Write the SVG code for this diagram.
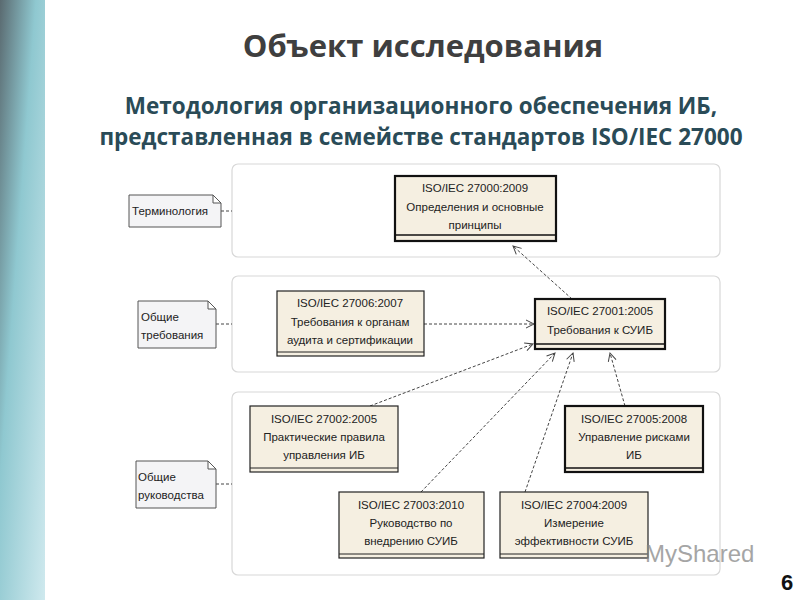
<svg xmlns="http://www.w3.org/2000/svg" width="800" height="600" viewBox="0 0 800 600">
<defs>
<marker id="ar" markerWidth="10" markerHeight="10" refX="9" refY="5" orient="auto" markerUnits="userSpaceOnUse"><path d="M1,1 L9,5 L1,9" fill="none" stroke="#444" stroke-width="1"/></marker>
<linearGradient id="bg" x1="0" y1="0" x2="1" y2="1"><stop offset="0" stop-color="#5a6a70"/><stop offset="0.4" stop-color="#8fc8d0"/><stop offset="1" stop-color="#cfe9ee"/></linearGradient>
</defs>
<style>
.t{font-family:"Liberation Sans",Arial,sans-serif}
.h{font-family:"Open Sans","Liberation Sans",sans-serif;font-weight:bold;text-anchor:middle}
.panel{fill:#fff;stroke:#d8d8d8;stroke-width:1.2}
.n{fill:#f5efe1;stroke:#222;stroke-width:1.2}
.nb{fill:#f5efe1;stroke:#111;stroke-width:2.2}
.nt{font-family:"Liberation Sans",Arial,sans-serif;font-size:11.5px;fill:#222;text-anchor:middle}
.note{fill:#f4f4f6;stroke:#555;stroke-width:1}
.c{stroke:#444;stroke-width:1;stroke-dasharray:3,2;fill:none}
</style>
<rect width="800" height="600" fill="#fff"/>
<rect x="0" y="0" width="45" height="600" fill="url(#bg)"/>
<text class="h" x="423" y="57" font-size="31" fill="#3f3f3f">Объект исследования</text>
<text class="h" x="421" y="114" font-size="22.5" fill="#2a4b57">Методология организационного обеспечения ИБ,</text>
<text class="h" x="421" y="145" font-size="22.5" fill="#2a4b57">представленная в семействе стандартов ISO/IEC 27000</text>
<rect class="panel" x="232" y="164" width="488" height="93" rx="6"/>
<rect class="panel" x="232" y="276" width="488" height="96" rx="6"/>
<rect class="panel" x="232" y="392" width="488" height="183" rx="6"/>
<g id="connectors">
<path class="c" d="M572,299 L513,246" marker-end="url(#ar)"/>
<path class="c" d="M424,324 L534,324" marker-end="url(#ar)"/>
<path class="c" d="M370,406 L533,344" marker-end="url(#ar)"/>
<path class="c" d="M421,492 L555,353" marker-end="url(#ar)"/>
<path class="c" d="M525,492 L573,353" marker-end="url(#ar)"/>
<path class="c" d="M625,406 L610,353" marker-end="url(#ar)"/>
<path class="c" stroke-dasharray="2,2" d="M221,211 L232,211 M216,324 L232,324 M216,484 L232,484"/>
</g>
<g id="note1"><path class="note" d="M129,195 H213 L221,203 V227 H129 Z M213,195 V203 H221"/><text class="t" x="132" y="215" font-size="11.5" fill="#222">Терминология</text></g>
<g id="note2"><path class="note" d="M138,301 H208 L216,309 V348 H138 Z M208,301 V309 H216"/><text class="t" x="141" y="321" font-size="11.5" fill="#222">Общие</text><text class="t" x="141" y="339" font-size="11.5" fill="#222">требования</text></g>
<g id="note3"><path class="note" d="M136,461 H208 L216,469 V508 H136 Z M208,461 V469 H216"/><text class="t" x="138" y="481" font-size="11.5" fill="#222">Общие</text><text class="t" x="138" y="499" font-size="11.5" fill="#222">руководства</text></g>
<g id="n0"><rect class="nb" x="395" y="176" width="161" height="65"/><path d="M395,235 H556" stroke="#111" stroke-width="1.5"/><text class="nt" x="475" y="192">ISO/IEC 27000:2009</text><text class="nt" x="475" y="211">Определения и основные</text><text class="nt" x="475" y="229">принципы</text></g>
<g id="n6"><rect class="n" x="277" y="291" width="147" height="65"/><path d="M277,352 H424" stroke="#222"/><text class="nt" x="350" y="307">ISO/IEC 27006:2007</text><text class="nt" x="350" y="326">Требования к органам</text><text class="nt" x="350" y="344">аудита и сертификации</text></g>
<g id="n1"><rect class="nb" x="535" y="299" width="130" height="50"/><path d="M535,344 H665" stroke="#111" stroke-width="1.5"/><text class="nt" x="600" y="315">ISO/IEC 27001:2005</text><text class="nt" x="600" y="334">Требования к СУИБ</text></g>
<g id="n2"><rect class="n" x="250" y="406" width="148" height="66"/><path d="M250,468 H398" stroke="#222"/><text class="nt" x="324" y="423">ISO/IEC 27002:2005</text><text class="nt" x="324" y="441">Практические правила</text><text class="nt" x="324" y="459">управления ИБ</text></g>
<g id="n5"><rect class="nb" x="565" y="406" width="138" height="66"/><path d="M565,468 H703" stroke="#111" stroke-width="1.5"/><text class="nt" x="634" y="423">ISO/IEC 27005:2008</text><text class="nt" x="634" y="441">Управление рисками</text><text class="nt" x="634" y="459">ИБ</text></g>
<g id="n3"><rect class="n" x="339" y="492" width="145" height="66"/><path d="M339,554 H484" stroke="#222"/><text class="nt" x="411" y="509">ISO/IEC 27003:2010</text><text class="nt" x="411" y="527">Руководство по</text><text class="nt" x="411" y="545">внедрению СУИБ</text></g>
<g id="n4"><rect class="n" x="500" y="492" width="148" height="66"/><path d="M500,554 H648" stroke="#222"/><text class="nt" x="574" y="509">ISO/IEC 27004:2009</text><text class="nt" x="574" y="527">Измерение</text><text class="nt" x="574" y="545">эффективности СУИБ</text></g>
<text class="t" x="645" y="562" font-size="24" fill="#888" opacity="0.75">MyShared</text>
<text class="t" x="787" y="590" font-size="22" font-weight="bold" fill="#111" text-anchor="middle">6</text>
</svg>
